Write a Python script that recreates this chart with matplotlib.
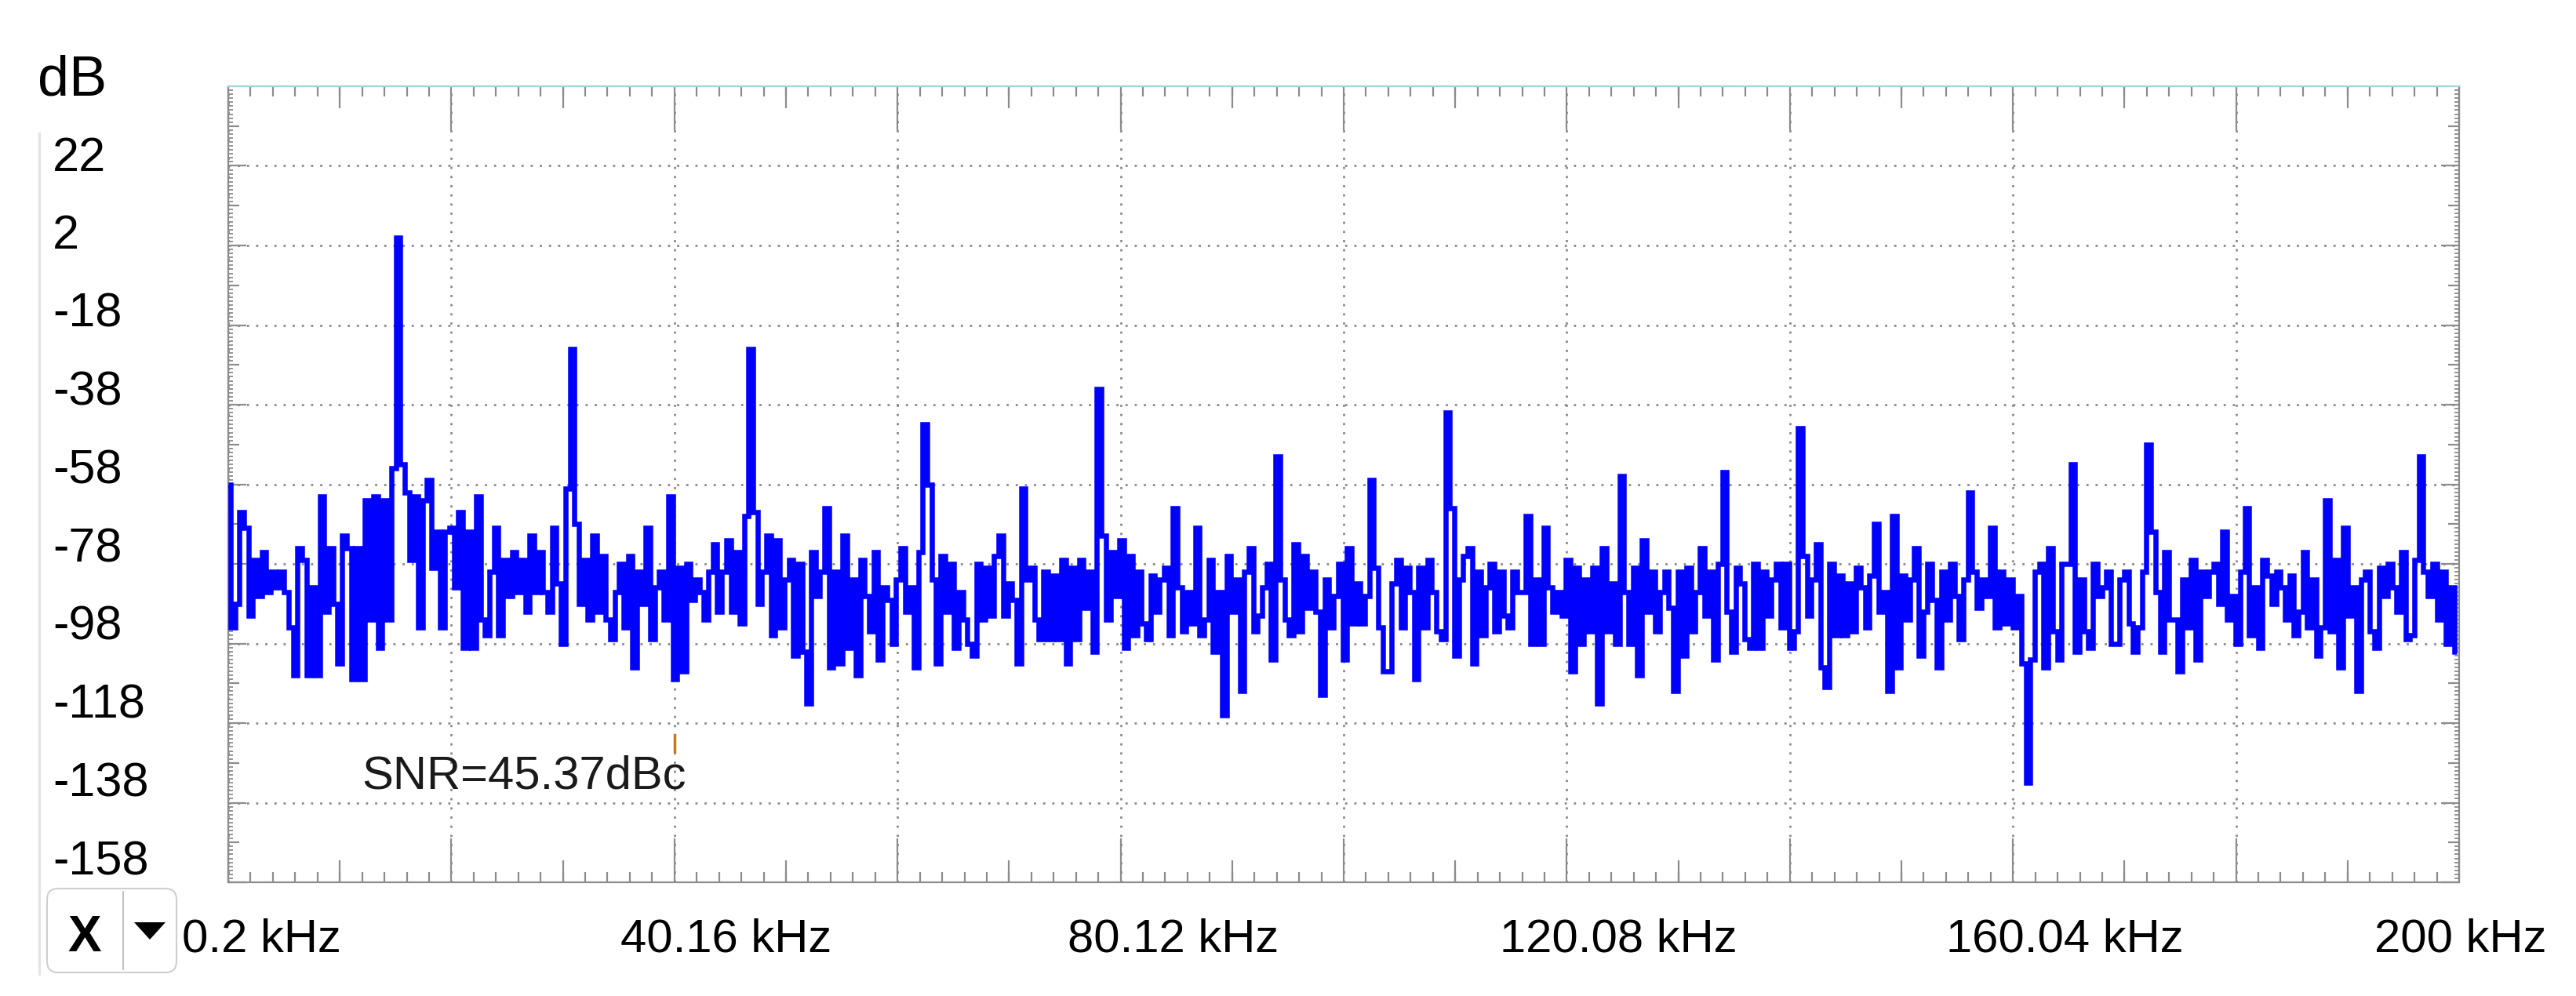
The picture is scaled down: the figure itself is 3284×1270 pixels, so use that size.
import numpy as np
import matplotlib
matplotlib.use("Agg")
import matplotlib.pyplot as plt
from matplotlib import transforms
from matplotlib.patches import FancyBboxPatch, Polygon
from matplotlib.lines import Line2D

# --- spectrum data, one value per 0.4 kHz bin ---
bin_start_khz = 0.2
bin_width_khz = 0.4

level_db_0_40 = [
    -58, -94, -88, -65, -69, -91, -77, -86, -75, -85,
    -80, -84, -80, -85, -94, -106, -74, -77, -106, -84,
    -106, -61, -90, -74, -88, -103, -71, -74, -107, -74,
    -107, -62, -92, -61, -99, -62, -92, -54, 4, -53,
    -60, -77, -61, -94, -62, -57, -79, -70, -94, -70,
    -69, -84, -65, -99, -70, -99, -61, -92, -96, -80,
    -69, -96, -77, -86, -75, -85, -77, -90, -71, -85,
    -75, -85, -90, -69, -83, -98, -59, -24, -68, -88,
    -77, -92, -71, -90, -76, -92, -97, -85, -78, -94,
    -76, -104, -80, -88, -69, -97, -84, -80, -92, -61,
]
level_db_40_80 = [
    -107, -79, -105, -78, -87, -82, -85, -92, -80, -73,
    -90, -80, -72, -90, -75, -93, -66, -24, -65, -88,
    -80, -71, -96, -72, -94, -82, -77, -101, -78, -100,
    -113, -75, -86, -80, -64, -104, -80, -103, -71, -99,
    -82, -106, -77, -86, -95, -75, -102, -84, -87, -98,
    -82, -74, -90, -84, -104, -75, -43, -58, -82, -103,
    -76, -90, -78, -99, -85, -92, -98, -101, -78, -92,
    -79, -91, -76, -71, -91, -83, -87, -103, -59, -82,
    -79, -92, -97, -80, -97, -81, -97, -77, -103, -79,
    -97, -77, -89, -80, -100, -34, -71, -92, -75, -86,
]
level_db_80_120 = [
    -72, -99, -76, -96, -80, -93, -97, -81, -90, -82,
    -79, -96, -64, -84, -95, -85, -93, -69, -96, -92,
    -77, -100, -85, -116, -76, -90, -82, -110, -80, -74,
    -95, -91, -84, -78, -102, -51, -82, -92, -96, -73,
    -95, -76, -89, -80, -90, -111, -82, -94, -86, -78,
    -102, -74, -93, -83, -93, -86, -57, -79, -94, -105,
    -105, -83, -77, -94, -79, -85, -107, -79, -94, -77,
    -85, -95, -97, -40, -64, -101, -82, -76, -74, -103,
    -80, -96, -84, -78, -95, -80, -91, -94, -80, -85,
    -85, -66, -98, -82, -98, -69, -84, -90, -85, -91,
]
level_db_120_160 = [
    -77, -105, -79, -98, -82, -95, -79, -113, -74, -95,
    -83, -98, -56, -85, -98, -79, -106, -72, -90, -80,
    -95, -85, -80, -89, -110, -80, -101, -79, -95, -85,
    -74, -91, -80, -102, -78, -55, -90, -100, -79, -83,
    -97, -99, -78, -99, -80, -91, -82, -78, -94, -78,
    -99, -95, -44, -76, -91, -82, -73, -104, -109, -78,
    -96, -81, -96, -83, -95, -79, -84, -94, -81, -68,
    -90, -85, -110, -66, -104, -81, -92, -82, -74, -101,
    -90, -78, -87, -104, -80, -92, -78, -86, -97, -82,
    -60, -80, -89, -82, -86, -69, -94, -80, -93, -82,
]
level_db_160_200 = [
    -94, -86, -103, -133, -102, -80, -78, -104, -74, -95,
    -102, -78, -78, -53, -100, -82, -95, -99, -78, -86,
    -84, -80, -98, -98, -82, -80, -93, -100, -94, -80,
    -48, -70, -85, -100, -75, -92, -92, -105, -82, -94,
    -77, -102, -80, -86, -80, -78, -88, -70, -92, -86,
    -98, -80, -64, -96, -84, -99, -77, -81, -88, -80,
    -84, -92, -81, -96, -90, -75, -94, -82, -101, -94,
    -62, -95, -77, -104, -69, -91, -84, -110, -82, -80,
    -95, -99, -79, -86, -78, -84, -90, -75, -97, -96,
    -77, -51, -80, -86, -78, -92, -80, -98, -84, -100,
]

x_tick_khz = [0.2, 40.16, 80.12, 120.08, 160.04, 200]
x_tick_labels = ["0.2 kHz", "40.16 kHz", "80.12 kHz", "120.08 kHz", "160.04 kHz", "200 kHz"]
y_tick_db = [22, 2, -18, -38, -58, -78, -98, -118, -138, -158]
snr_label = "SNR=45.37dBc"
cursor_khz = 40.16
cursor_db = [-121, -125]

levels_db = np.array(level_db_0_40 + level_db_40_80 + level_db_80_120
                     + level_db_120_160 + level_db_160_200)
freq_khz = bin_start_khz + bin_width_khz * np.arange(len(levels_db))

# --- figure, sized in pixels ---
W, H = 3284, 1270
fig = plt.figure(figsize=(W / 100, H / 100), dpi=100)
fig.patch.set_facecolor("white")
pix = transforms.Affine2D().scale(1 / W, -1 / H).translate(0, 1) + fig.transFigure

ax_l, ax_r, ax_t, ax_b = 291, 3135, 110, 1125
ax = fig.add_axes([ax_l / W, 1 - ax_b / H, (ax_r - ax_l) / W, (ax_b - ax_t) / H])
ax_w_px, ax_h_px = ax_r - ax_l, ax_b - ax_t

font = ["Liberation Sans", "DejaVu Sans"]
tick_col = "#8c8c8c"

ax.plot(freq_khz, levels_db, color="#0000ff", lw=4.7, drawstyle="steps-mid",
        solid_joinstyle="miter", solid_capstyle="butt", zorder=3)
ax.plot([cursor_khz, cursor_khz], cursor_db, color="#c87814", lw=2.5, zorder=4)

ax.set_xlim(x_tick_khz[0], x_tick_khz[-1])
ax.set_ylim(min(y_tick_db), 42)

x_grid = np.linspace(x_tick_khz[0], x_tick_khz[-1], 11)
y_grid = np.array(sorted(y_tick_db))
ax.set_xticks(x_grid)
ax.set_xticks(np.linspace(x_tick_khz[0], x_tick_khz[-1], 101), minor=True)
ax.set_yticks(y_grid)
ax.set_yticks(np.arange(min(y_tick_db), 43, 1), minor=True)

ax.tick_params(axis="x", which="major", direction="in", length=40, width=1.6,
               color=tick_col, top=True, bottom=True, labelbottom=False)
ax.tick_params(axis="x", which="minor", direction="in", length=9.5, width=1.6,
               color=tick_col, top=True, bottom=True)
ax.tick_params(axis="y", which="major", direction="in", length=16.5, width=1.6,
               color=tick_col, left=True, right=True, labelleft=False)
ax.tick_params(axis="y", which="minor", direction="in", length=4.3, width=1.3,
               color=tick_col, left=True, right=True)
ax.set_axisbelow(True)
ax.grid(True, which="major", color="#8a8a8a", lw=2.0, linestyle=(0, (1, 3.2)))

# medium ticks halfway between gridlines
x_mid = (x_grid[:-1] + x_grid[1:]) / 2
y_mid = (y_grid[:-1] + y_grid[1:]) / 2
y_mid = np.append(y_mid, y_grid[-1] + 10)
xt = ax.get_xaxis_transform()
yt = ax.get_yaxis_transform()
ax.vlines(x_mid, 0, 28 / ax_h_px, transform=xt, colors=tick_col, lw=1.6, clip_on=False)
ax.vlines(x_mid, 1 - 28 / ax_h_px, 1, transform=xt, colors=tick_col, lw=1.6, clip_on=False)
ax.hlines(y_mid, 0, 14 / ax_w_px, transform=yt, colors=tick_col, lw=1.6, clip_on=False)
ax.hlines(y_mid, 1 - 14 / ax_w_px, 1, transform=yt, colors=tick_col, lw=1.6, clip_on=False)

for side in ["left", "right", "bottom"]:
    ax.spines[side].set_color(tick_col)
    ax.spines[side].set_linewidth(1.6)
ax.spines["top"].set_color("#a6d4d6")
ax.spines["top"].set_linewidth(1.6)

# y labels, left of the plot
for k, v in enumerate(y_tick_db):
    drop = 6 - 16 * k / (len(y_tick_db) - 1)
    tr = (transforms.blended_transform_factory(pix, ax.transData)
          + transforms.ScaledTranslation(0, -drop / 100, fig.dpi_scale_trans))
    fig.text(67, v, f"{v}", transform=tr, ha="left", va="baseline",
             fontsize=44, family=font, color="black")

fig.text(48, 122, "dB", transform=pix, ha="left", va="baseline",
         fontsize=52, family=font, color="black")

# x labels below the plot
x_label_shift_px = [-59, -69, -68, -85, -85, -108]
for v, lab, sh in zip(x_tick_khz, x_tick_labels, x_label_shift_px):
    tr = (transforms.blended_transform_factory(ax.transData, pix)
          + transforms.ScaledTranslation(sh / 100, 0, fig.dpi_scale_trans))
    fig.text(v, 1213, lab, transform=tr, ha="left", va="baseline",
             fontsize=43, family=font, color="black")

fig.text(461, 1006, snr_label, transform=pix, ha="left", va="baseline",
         fontsize=43, family=font, color="#1a1a1a")

# axis selector widget and separator
fig.add_artist(Line2D([50, 50], [170, 1242], transform=pix, color="#e4e4e4", lw=2.2))
fig.add_artist(FancyBboxPatch((60, 1133), 165, 107, boxstyle="round,pad=0,rounding_size=14",
                              transform=pix, fc="white", ec="#cfcfcf", lw=1.5))
fig.add_artist(Line2D([157, 157], [1137, 1236], transform=pix, color="#b4b4b4", lw=1.2))
fig.text(108, 1213, "X", transform=pix, ha="center", va="baseline",
         fontsize=46, fontweight="bold", family=font, color="black")
fig.add_artist(Polygon([[171, 1176], [211, 1176], [191, 1198]], closed=True,
                       transform=pix, fc="black", ec="none"))

fig.savefig("out.png", dpi=100, facecolor="white")
